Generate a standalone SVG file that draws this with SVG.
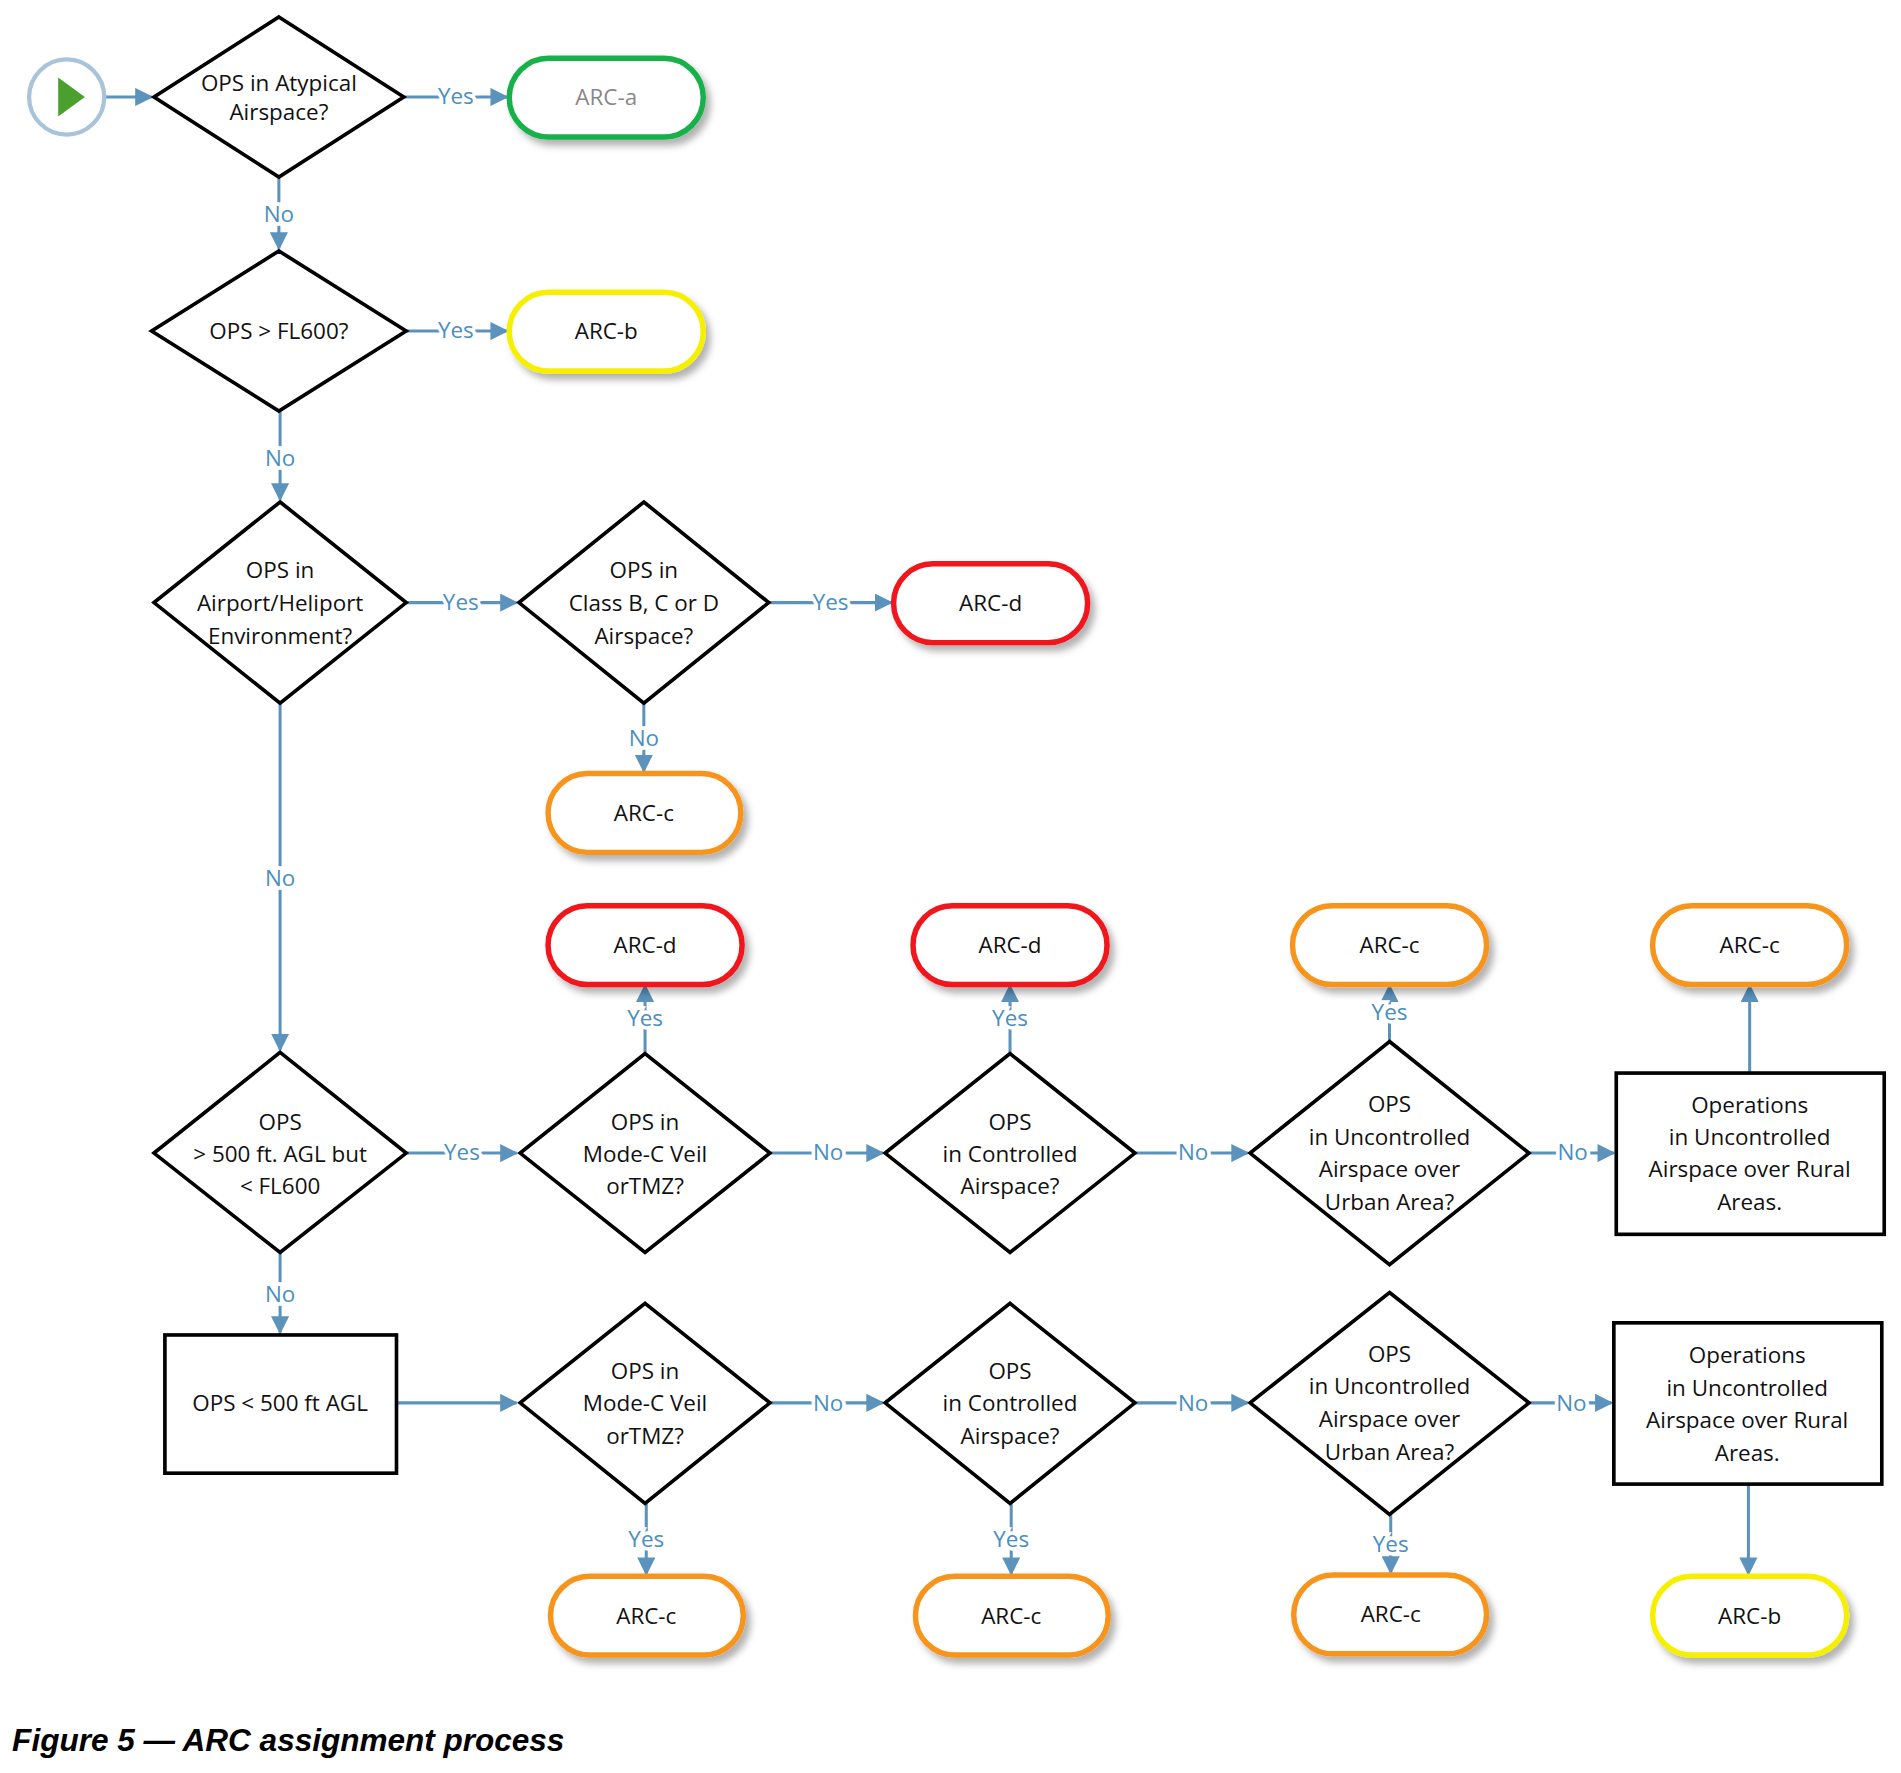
<svg xmlns="http://www.w3.org/2000/svg" width="1901" height="1773" viewBox="0 0 1901 1773">
<style>
.d{fill:#fff;stroke:#000;stroke-width:3}
.b{fill:#fff;stroke:#000;stroke-width:3}
.t{font-family:"Open Sans","Liberation Sans",sans-serif;font-size:18.5px;fill:#111;text-anchor:middle}
.c{fill:none;stroke:#5b93bd;stroke-width:2.5;marker-end:url(#ah)}
.l{font-family:"Open Sans","Liberation Sans",sans-serif;font-size:18.5px;fill:#4a8fc0;text-anchor:middle;stroke:#fff;stroke-width:6px;paint-order:stroke}
.s{fill:#fff;stroke-width:4.5;filter:url(#sh)}
.g{stroke:#19b24a}.y{stroke:#f6f000}.r{stroke:#f0141e}.o{stroke:#f7941d}
</style>
<defs>
<marker id="ah" viewBox="0 0 10 10" refX="9" refY="5" markerWidth="6" markerHeight="6" orient="auto" markerUnits="strokeWidth"><path d="M0,0L10,5L0,10z" fill="#5b93bd"/></marker>
<filter id="sh" x="-20%" y="-30%" width="150%" height="170%"><feDropShadow dx="4" dy="5" stdDeviation="3" flood-color="#000" flood-opacity="0.3"/></filter>
</defs>
<rect width="1901" height="1773" fill="#fff"/>
<g transform="scale(1.2125)">
<g id="connectors">
<path class="c" d="M87,80H125"/>
<path class="c" d="M333,80H418"/><text class="l" x="376" y="86">Yes</text>
<path class="c" d="M230,146V205"/><text class="l" x="230" y="183">No</text>
<path class="c" d="M335,273H418"/><text class="l" x="376" y="279">Yes</text>
<path class="c" d="M231,339V412"/><text class="l" x="231" y="384">No</text>
<path class="c" d="M335,497H426"/><text class="l" x="380" y="503">Yes</text>
<path class="c" d="M634,497H735"/><text class="l" x="685" y="503">Yes</text>
<path class="c" d="M531,580V636"/><text class="l" x="531" y="615">No</text>
<path class="c" d="M231,580V866"/><text class="l" x="231" y="731">No</text>
<path class="c" d="M335,951H426"/><text class="l" x="381" y="957">Yes</text>
<path class="c" d="M635,951H728"/><text class="l" x="683" y="957">No</text>
<path class="c" d="M936,951H1029"/><text class="l" x="984" y="957">No</text>
<path class="c" d="M1261,951H1331"/><text class="l" x="1297" y="957">No</text>
<path class="c" d="M532,869V813"/><text class="l" x="532" y="846">Yes</text>
<path class="c" d="M833,869V813"/><text class="l" x="833" y="846">Yes</text>
<path class="c" d="M1146,859V813"/><text class="l" x="1146" y="841">Yes</text>
<path class="c" d="M1443,884V813"/>
<path class="c" d="M231,1033V1099"/><text class="l" x="231" y="1074">No</text>
<path class="c" d="M327,1157H426"/>
<path class="c" d="M635,1157H728"/><text class="l" x="683" y="1164">No</text>
<path class="c" d="M936,1157H1029"/><text class="l" x="984" y="1164">No</text>
<path class="c" d="M1261,1157H1329"/><text class="l" x="1296" y="1164">No</text>
<path class="c" d="M533,1240V1298"/><text class="l" x="533" y="1276">Yes</text>
<path class="c" d="M834,1240V1298"/><text class="l" x="834" y="1276">Yes</text>
<path class="c" d="M1147,1249V1297"/><text class="l" x="1147" y="1280">Yes</text>
<path class="c" d="M1442,1224V1298"/>
</g>
<g id="start"><circle cx="55" cy="80" r="31" fill="#fff" stroke="#a9c4da" stroke-width="3.5"/><path d="M48,64L70,80L48,96z" fill="#4aa02c"/></g>
<g id="q1"><path class="d" d="M230,14L333,80L230,146L127,80z"/><text class="t" x="230" y="75">OPS in Atypical</text><text class="t" x="230" y="99">Airspace?</text></g>
<g id="arca"><rect class="s g" x="420" y="48" width="160" height="65" rx="32.5"/><text class="t" x="500" y="87" style="fill:#888">ARC-a</text></g>
<g id="q2"><path class="d" d="M230,207L335,273L230,339L125,273z"/><text class="t" x="230" y="280">OPS &gt; FL600?</text></g>
<g id="arcb1"><rect class="s y" x="420" y="241" width="160" height="65" rx="32.5"/><text class="t" x="500" y="280">ARC-b</text></g>
<g id="q3"><path class="d" d="M231,414L335,497L231,580L127,497z"/><text class="t" x="231" y="477">OPS in</text><text class="t" x="231" y="504">Airport/Heliport</text><text class="t" x="231" y="531">Environment?</text></g>
<g id="q4"><path class="d" d="M531,414L634,497L531,580L428,497z"/><text class="t" x="531" y="477">OPS in</text><text class="t" x="531" y="504">Class B, C or D</text><text class="t" x="531" y="531">Airspace?</text></g>
<g id="arcd1"><rect class="s r" x="737" y="465" width="160" height="65" rx="32.5"/><text class="t" x="817" y="504">ARC-d</text></g>
<g id="arcc1"><rect class="s o" x="452" y="638" width="159" height="65" rx="32.5"/><text class="t" x="531" y="677">ARC-c</text></g>
<g id="arcd2"><rect class="s r" x="452" y="747" width="160" height="65" rx="32.5"/><text class="t" x="532" y="786">ARC-d</text></g>
<g id="arcd3"><rect class="s r" x="753" y="747" width="160" height="65" rx="32.5"/><text class="t" x="833" y="786">ARC-d</text></g>
<g id="arcc2"><rect class="s o" x="1066" y="747" width="160" height="65" rx="32.5"/><text class="t" x="1146" y="786">ARC-c</text></g>
<g id="arcc3"><rect class="s o" x="1363" y="747" width="160" height="65" rx="32.5"/><text class="t" x="1443" y="786">ARC-c</text></g>
<g id="q5"><path class="d" d="M231,868L335,951L231,1033L127,951z"/><text class="t" x="231" y="932">OPS</text><text class="t" x="231" y="958">&gt; 500 ft. AGL but</text><text class="t" x="231" y="985">&lt; FL600</text></g>
<g id="q6"><path class="d" d="M532,869L635,951L532,1033L429,951z"/><text class="t" x="532" y="932">OPS in</text><text class="t" x="532" y="958">Mode-C Veil</text><text class="t" x="532" y="985">orTMZ?</text></g>
<g id="q7"><path class="d" d="M833,869L936,951L833,1033L730,951z"/><text class="t" x="833" y="932">OPS</text><text class="t" x="833" y="958">in Controlled</text><text class="t" x="833" y="985">Airspace?</text></g>
<g id="q8"><path class="d" d="M1146,859L1261,951L1146,1043L1031,951z"/><text class="t" x="1146" y="917">OPS</text><text class="t" x="1146" y="944">in Uncontrolled</text><text class="t" x="1146" y="971">Airspace over</text><text class="t" x="1146" y="998">Urban Area?</text></g>
<g id="rural1"><rect class="b" x="1333" y="885" width="221" height="133"/><text class="t" x="1443" y="918">Operations</text><text class="t" x="1443" y="944">in Uncontrolled</text><text class="t" x="1443" y="971">Airspace over Rural</text><text class="t" x="1443" y="998">Areas.</text></g>
<g id="low"><rect class="b" x="136" y="1101" width="191" height="114"/><text class="t" x="231" y="1164">OPS &lt; 500 ft AGL</text></g>
<g id="q9"><path class="d" d="M532,1075L635,1157L532,1240L429,1157z"/><text class="t" x="532" y="1137">OPS in</text><text class="t" x="532" y="1164">Mode-C Veil</text><text class="t" x="532" y="1191">orTMZ?</text></g>
<g id="q10"><path class="d" d="M833,1075L936,1157L833,1240L730,1157z"/><text class="t" x="833" y="1137">OPS</text><text class="t" x="833" y="1164">in Controlled</text><text class="t" x="833" y="1191">Airspace?</text></g>
<g id="q11"><path class="d" d="M1146,1066L1261,1157L1146,1249L1031,1157z"/><text class="t" x="1146" y="1123">OPS</text><text class="t" x="1146" y="1150">in Uncontrolled</text><text class="t" x="1146" y="1177">Airspace over</text><text class="t" x="1146" y="1204">Urban Area?</text></g>
<g id="rural2"><rect class="b" x="1331" y="1091" width="221" height="133"/><text class="t" x="1441" y="1124">Operations</text><text class="t" x="1441" y="1151">in Uncontrolled</text><text class="t" x="1441" y="1178">Airspace over Rural</text><text class="t" x="1441" y="1205">Areas.</text></g>
<g id="arcc4"><rect class="s o" x="454" y="1300" width="159" height="65" rx="32.5"/><text class="t" x="533" y="1339">ARC-c</text></g>
<g id="arcc5"><rect class="s o" x="755" y="1300" width="159" height="65" rx="32.5"/><text class="t" x="834" y="1339">ARC-c</text></g>
<g id="arcc6"><rect class="s o" x="1067" y="1299" width="159" height="65" rx="32.5"/><text class="t" x="1147" y="1338">ARC-c</text></g>
<g id="arcb2"><rect class="s y" x="1363" y="1300" width="160" height="65" rx="32.5"/><text class="t" x="1443" y="1339">ARC-b</text></g>
<text x="10" y="1444" font-family="Liberation Sans,sans-serif" font-size="26" font-weight="bold" font-style="italic" fill="#000">Figure 5 — ARC assignment process</text>
</g>
</svg>
